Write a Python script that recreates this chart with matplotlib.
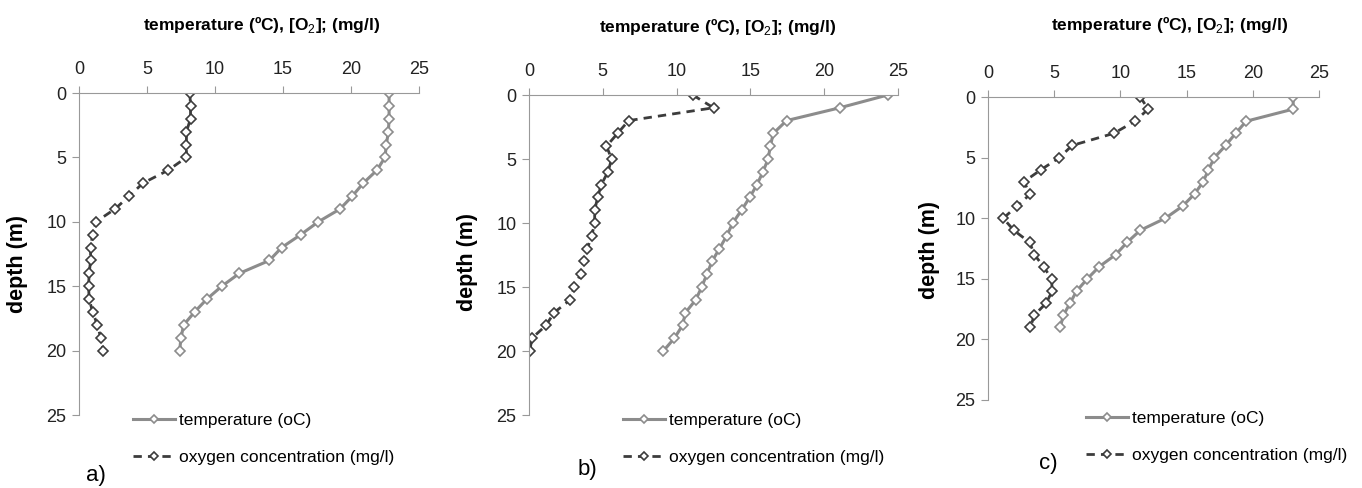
import matplotlib
matplotlib.use("Agg")
import matplotlib.pyplot as plt

# depth (m) and profiles
depth_a = [0, 1, 2, 3, 4, 5, 6, 7, 8, 9, 10, 11, 12, 13, 14, 15, 16, 17, 18, 19, 20]
temp_a = [22.8, 22.8, 22.8, 22.75, 22.6, 22.5, 21.9, 20.9, 20.1, 19.2, 17.6,
          16.3, 14.9, 14.0, 11.8, 10.5, 9.4, 8.5, 7.7, 7.5, 7.4]
oxy_a = [8.15, 8.2, 8.2, 7.9, 7.9, 7.9, 6.55, 4.7, 3.7, 2.65, 1.25,
         1.0, 0.85, 0.85, 0.75, 0.7, 0.75, 1.0, 1.35, 1.6, 1.8]

depth_b = [0, 1, 2, 3, 4, 5, 6, 7, 8, 9, 10, 11, 12, 13, 14, 15, 16, 17, 18, 19, 20]
temp_b = [24.3, 21.05, 17.45, 16.55, 16.35, 16.2, 15.85, 15.45, 14.95, 14.4, 13.8,
          13.4, 12.9, 12.4, 12.05, 11.7, 11.3, 10.6, 10.4, 9.85, 9.1]
oxy_b = [11.1, 12.5, 6.75, 6.0, 5.25, 5.6, 5.35, 4.9, 4.65, 4.45, 4.45,
         4.25, 3.95, 3.7, 3.5, 3.05, 2.8, 1.7, 1.15, 0.2, 0.05]

depth_c = [0, 1, 2, 3, 4, 5, 6, 7, 8, 9, 10, 11, 12, 13, 14, 15, 16, 17, 18, 19]
temp_c = [23.05, 23.05, 19.5, 18.7, 17.95, 17.1, 16.65, 16.25, 15.6, 14.7, 13.4,
          11.5, 10.5, 9.65, 8.4, 7.5, 6.7, 6.2, 5.7, 5.45]
oxy_c = [11.5, 12.1, 11.1, 9.5, 6.35, 5.4, 4.0, 2.7, 3.2, 2.2, 1.15,
         1.95, 3.15, 3.5, 4.2, 4.8, 4.85, 4.4, 3.5, 3.2]

ticks = [0, 5, 10, 15, 20, 25]
panel_labels = ["a)", "b)", "c)"]
xlabel = "temperature (ºC), [O$_2$]; (mg/l)"

plt.rcParams["font.family"] = ["Liberation Sans", "DejaVu Sans"]
plt.rcParams["mathtext.fontset"] = "custom"
plt.rcParams["mathtext.rm"] = "Liberation Sans"
plt.rcParams["mathtext.bf"] = "Liberation Sans:bold"

W, H = 1362, 488
fig = plt.figure(figsize=(W / 100, H / 100), dpi=100)

# pixel boxes: left, right, top(y=0), bottom(y=25)
boxes = [(79, 419, 93, 415), (529, 898, 95, 415), (988, 1319, 97, 400)]
legend_at = [(133, 413), (623, 413), (1086, 411)]
title_at = [(262, 25), (718, 27), (1170, 25)]
ylab_at = [(18, 264), (468, 262), (930, 250)]
plab_at = [(96, 475), (587, 470), (1048, 463)]

data = [(depth_a, temp_a, oxy_a), (depth_b, temp_b, oxy_b), (depth_c, temp_c, oxy_c)]

for i, (depth, temp, oxy) in enumerate(data):
    l, r, t, b = boxes[i]
    ax = fig.add_axes([l / W, 1 - b / H, (r - l) / W, (b - t) / H])

    ax.plot(temp, depth, color="#8c8c8c", lw=2.2, marker="D", ms=5,
            mfc="white", mec="#8c8c8c", mew=1.2, label="temperature (oC)")
    ax.plot(oxy, depth, color="#3c3c3c", lw=2, ls=(0, (3, 2.2)), marker="D", ms=5,
            mfc="white", mec="#3c3c3c", mew=1.2, label="oxygen concentration (mg/l)")

    ax.set_xlim(0, 25)
    ax.set_ylim(25, 0)
    ax.set_xticks(ticks)
    ax.set_yticks(ticks)
    ax.xaxis.tick_top()
    for side in ["right", "bottom"]:
        ax.spines[side].set_visible(False)
    for side in ["left", "top"]:
        ax.spines[side].set_color("#999999")
    ax.tick_params(axis="both", colors="#999999", labelcolor="#222222",
                   labelsize=13, length=5, direction="out")
    ax.tick_params(axis="x", pad=6)
    ax.tick_params(axis="y", pad=4)

    lx, ly = legend_at[i]
    ax.legend(loc="upper left", bbox_to_anchor=(lx / W, 1 - ly / H),
              bbox_transform=fig.transFigure, frameon=False, fontsize=12.5,
              borderpad=0, borderaxespad=0, handlelength=2.4, handletextpad=0.25,
              labelspacing=1.25, numpoints=1, markerscale=0.8)

    tx, ty = title_at[i]
    fig.text(tx / W, 1 - ty / H, xlabel, ha="center", va="center",
             fontsize=12.5, fontweight="bold")
    yx, yy = ylab_at[i]
    fig.text(yx / W, 1 - yy / H, "depth (m)", ha="center", va="center",
             rotation=90, fontsize=15.5, fontweight="bold")
    px, py = plab_at[i]
    fig.text(px / W, 1 - py / H, panel_labels[i], ha="center", va="center",
             fontsize=16)

fig.savefig("out.png", dpi=100)
